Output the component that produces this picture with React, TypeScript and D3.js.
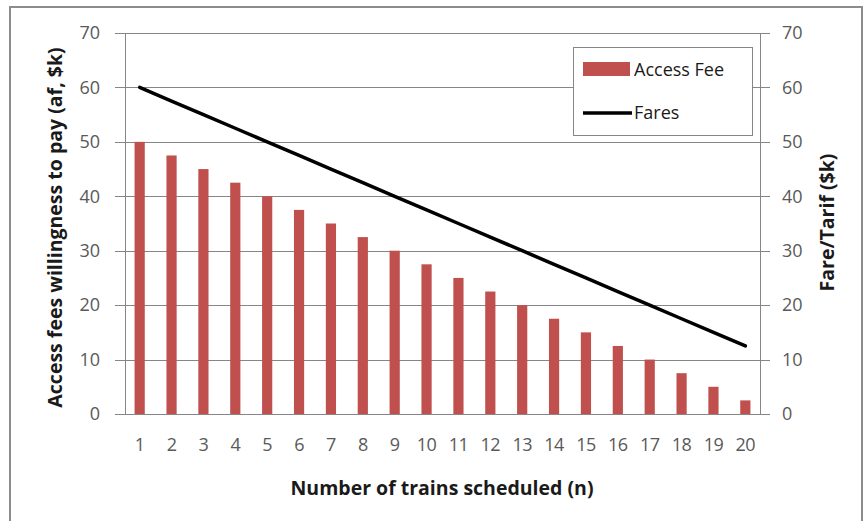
import { useEffect, useRef } from "react";
import * as d3 from "d3";

const trains = [1, 2, 3, 4, 5, 6, 7, 8, 9, 10, 11, 12, 13, 14, 15, 16, 17, 18, 19, 20];
const accessFee = [50, 47.5, 45, 42.5, 40, 37.5, 35, 32.5, 30, 27.5, 25, 22.5, 20, 17.5, 15, 12.5, 10, 7.5, 5, 2.5];
const fares = [60, 57.5, 55, 52.5, 50, 47.5, 45, 42.5, 40, 37.5, 35, 32.5, 30, 27.5, 25, 22.5, 20, 17.5, 15, 12.5];
const yTicks = [0, 10, 20, 30, 40, 50, 60, 70];

const W = 864;
const H = 521;
const margin = { top: 33, right: 104, bottom: 107, left: 125 };
const FONT = "'Open Sans', sans-serif";

const COLORS = {
  bar: "#C0504D",
  line: "#000000",
  grid: "#868686",
  axis: "#868686",
  tick: "#595959",
  title: "#1a1a1a",
  frame: "#8c8c8c",
};

export default function App() {
  const svgRef = useRef<SVGSVGElement>(null);

  useEffect(() => {
    if (!svgRef.current) return;
    const svg = d3.select(svgRef.current);
    svg.selectAll("*").remove();

    const innerW = W - margin.left - margin.right;
    const innerH = H - margin.top - margin.bottom;

    // outer frame
    svg.append("rect")
      .attr("x", 10).attr("y", 7)
      .attr("width", 852).attr("height", 520)
      .attr("fill", "#fff")
      .attr("stroke", COLORS.frame)
      .attr("stroke-width", 2);

    const x = d3.scaleBand<number>().domain(trains).range([0, innerW]).paddingInner(0.68).paddingOuter(0.3);
    const xc = (d: number) => (x(d) ?? 0) + x.bandwidth() / 2;
    const yL = d3.scaleLinear().domain([0, 70]).range([innerH, 0]);
    const yR = d3.scaleLinear().domain([0, 70]).range([innerH, 0]);

    const g = svg.append("g").attr("transform", `translate(${margin.left},${margin.top})`);

    // grid
    g.append("g")
      .selectAll("line")
      .data(yTicks)
      .join("line")
      .attr("x1", -10)
      .attr("x2", innerW + 10)
      .attr("y1", (d) => Math.round(yL(d)) + 0.5)
      .attr("y2", (d) => Math.round(yL(d)) + 0.5)
      .attr("stroke", COLORS.grid)
      .attr("stroke-width", 1);

    // axis lines
    g.append("line")
      .attr("x1", 0.5).attr("x2", 0.5)
      .attr("y1", 0).attr("y2", innerH)
      .attr("stroke", COLORS.axis);
    g.append("line")
      .attr("x1", innerW + 0.5).attr("x2", innerW + 0.5)
      .attr("y1", 0).attr("y2", innerH)
      .attr("stroke", COLORS.axis);

    // bars
    g.append("g")
      .selectAll("rect")
      .data(trains)
      .join("rect")
      .attr("x", (d) => x(d) ?? 0)
      .attr("width", x.bandwidth())
      .attr("y", (_, i) => yL(accessFee[i]))
      .attr("height", (_, i) => innerH - yL(accessFee[i]))
      .attr("fill", COLORS.bar);

    // fares line
    const line = d3.line<number>()
      .x((d) => xc(d))
      .y((_, i) => yR(fares[i]));
    g.append("path")
      .datum(trains)
      .attr("d", line)
      .attr("fill", "none")
      .attr("stroke", COLORS.line)
      .attr("stroke-width", 3.5)
      .attr("stroke-linecap", "round");

    const styleTicks = (s: d3.Selection<SVGGElement, unknown, null, undefined>) =>
      s.selectAll("text")
        .attr("fill", COLORS.tick)
        .attr("font-size", 18)
        .attr("font-family", FONT);

    // left axis labels
    g.append("g")
      .call(d3.axisLeft(yL).tickValues(yTicks).tickSize(0).tickPadding(25))
      .call((s) => s.select(".domain").remove())
      .call(styleTicks);

    // right axis labels
    g.append("g")
      .attr("transform", `translate(${innerW},0)`)
      .call(d3.axisRight(yR).tickValues(yTicks).tickSize(0).tickPadding(22))
      .call((s) => s.select(".domain").remove())
      .call(styleTicks);

    // x axis labels
    g.append("g")
      .attr("transform", `translate(0,${innerH})`)
      .call(d3.axisBottom(x).tickSize(0).tickPadding(24))
      .call((s) => s.select(".domain").remove())
      .call(styleTicks)
      .call((s) => s.selectAll("text").attr("letter-spacing", -0.5));

    // axis titles
    const title = (t: string) =>
      svg.append("text")
        .attr("text-anchor", "middle")
        .attr("font-size", 19.5)
        .attr("font-weight", 700)
        .attr("font-family", FONT)
        .attr("fill", COLORS.title)
        .text(t);

    title("Access fees willingness to pay (af, $k)")
      .attr("transform", `translate(62,${margin.top + innerH / 2 + 4}) rotate(-90)`);
    title("Fare/Tarif ($k)")
      .attr("transform", `translate(834,${margin.top + innerH / 2 - 1}) rotate(-90)`);
    title("Number of trains scheduled (n)")
      .attr("x", 442)
      .attr("y", 495);

    // legend
    const lg = svg.append("g").attr("transform", "translate(573,47)");
    lg.append("rect")
      .attr("x", 0.5).attr("y", 0.5)
      .attr("width", 179).attr("height", 88)
      .attr("fill", "#fff")
      .attr("stroke", COLORS.axis);
    lg.append("rect")
      .attr("x", 10).attr("y", 15)
      .attr("width", 47).attr("height", 14)
      .attr("fill", COLORS.bar);
    lg.append("text")
      .attr("x", 61).attr("y", 29)
      .attr("font-size", 18)
      .attr("font-family", FONT)
      .attr("fill", COLORS.title)
      .text("Access Fee");
    lg.append("line")
      .attr("x1", 10).attr("x2", 59)
      .attr("y1", 66).attr("y2", 66)
      .attr("stroke", COLORS.line)
      .attr("stroke-width", 3.5);
    lg.append("text")
      .attr("x", 61).attr("y", 72)
      .attr("font-size", 18)
      .attr("font-family", FONT)
      .attr("fill", COLORS.title)
      .text("Fares");
  }, []);

  return (
    <svg
      ref={svgRef}
      width={W}
      height={H}
      style={{ display: "block", position: "absolute", left: 0, top: 0 }}
    />
  );
}
